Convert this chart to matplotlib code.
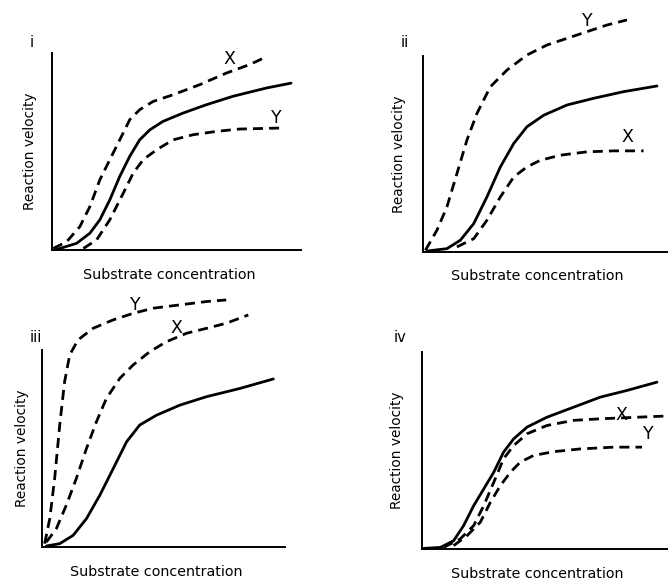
import matplotlib.pyplot as plt

# curve points, x and y in % of the axis length
# panel i
i_solid_x = [1.9, 9.9, 15.2, 19.2, 23.2, 27.2, 31.2, 35.2, 39.3, 44.6, 52.6, 61.9, 72.6, 86.0, 96.0]
i_solid_y = [0.3, 3.4, 8.5, 15.3, 25.4, 37.3, 47.5, 55.9, 61.0, 65.3, 69.5, 73.7, 78.0, 82.2, 84.7]
i_x_x = [0.5, 5.9, 11.2, 15.2, 19.2, 23.2, 27.2, 31.2, 35.2, 40.6, 48.6, 59.3, 70.0, 79.3, 86.0]
i_x_y = [0.8, 4.2, 11.9, 22.0, 35.6, 45.8, 55.9, 66.1, 71.2, 75.4, 78.8, 83.9, 89.8, 94.1, 98.0]
i_y_x = [12.6, 17.9, 23.2, 28.6, 32.6, 36.6, 41.9, 48.6, 56.6, 66.0, 75.3, 91.3]
i_y_y = [0.8, 5.1, 15.3, 28.8, 39.0, 45.8, 50.8, 55.9, 58.5, 60.2, 61.4, 61.9]

# panel ii
ii_solid_x = [1.6, 9.8, 15.3, 20.8, 26.2, 31.7, 37.2, 42.6, 49.5, 59.0, 69.9, 82.2, 95.9]
ii_solid_y = [0.5, 1.7, 6.0, 14.5, 28.1, 43.4, 55.4, 63.9, 69.8, 75.0, 78.4, 81.8, 84.7]
ii_y_x = [1.0, 5.7, 9.8, 13.9, 18.0, 22.1, 27.6, 34.4, 42.6, 50.8, 59.0, 67.2, 75.4, 83.6]
ii_y_y = [0.9, 11.1, 23.0, 40.0, 57.1, 70.7, 84.3, 92.8, 100.5, 105.6, 109.0, 112.4, 115.8, 118.4]
ii_x_x = [13.9, 20.8, 26.2, 31.7, 37.2, 42.6, 48.1, 56.3, 67.2, 78.1, 90.4]
ii_x_y = [2.6, 6.8, 16.2, 28.1, 38.3, 43.4, 46.8, 49.4, 51.1, 51.6, 51.6]

# panel iii
iii_solid_x = [1.8, 7.3, 12.8, 18.3, 23.8, 29.3, 34.8, 40.2, 47.1, 56.7, 67.7, 81.5, 95.2]
iii_solid_y = [0.5, 1.7, 5.9, 14.4, 26.3, 39.8, 53.4, 61.9, 66.9, 72.0, 76.3, 80.5, 85.3]
iii_y_x = [1.1, 3.2, 5.2, 7.3, 9.3, 11.4, 14.8, 21.0, 29.3, 37.5, 45.7, 56.7, 67.7, 75.8]
iii_y_y = [1.7, 14.4, 34.7, 62.0, 83.9, 97.5, 105.1, 111.0, 115.3, 118.6, 121.2, 122.9, 124.6, 125.4]
iii_x_x = [1.8, 5.9, 10.0, 14.1, 18.3, 22.4, 26.5, 32.0, 37.5, 44.4, 51.2, 59.5, 67.7, 75.9, 84.9]
iii_x_y = [2.5, 9.3, 21.2, 34.7, 50.0, 63.6, 75.4, 85.6, 92.4, 99.2, 104.2, 108.5, 111.0, 113.6, 117.8]

# panel iv
iv_solid_x = [0.7, 7.5, 12.9, 17.0, 21.1, 25.2, 29.3, 33.3, 37.4, 42.9, 51.0, 61.9, 72.8, 83.7, 95.9]
iv_solid_y = [0.3, 0.8, 4.2, 11.9, 22.0, 30.5, 39.0, 49.2, 55.9, 61.9, 66.9, 72.0, 77.1, 80.5, 84.7]
iv_x_x = [8.8, 15.6, 21.1, 25.2, 29.3, 33.3, 37.4, 42.9, 51.0, 61.9, 72.8, 99.5]
iv_x_y = [0.8, 5.1, 11.9, 22.0, 33.9, 45.8, 52.5, 58.5, 62.7, 65.3, 66.1, 67.5]
iv_y_x = [12.9, 18.4, 23.8, 27.9, 32.0, 36.1, 40.1, 45.6, 53.7, 64.6, 78.2, 89.8]
iv_y_y = [1.7, 6.8, 13.6, 23.7, 32.2, 39.0, 44.1, 47.5, 49.4, 50.8, 51.7, 51.7]

panels = [
    # name, axes rect (px), solid, dashed X, dashed Y, X label pos, Y label pos, numeral pos, ylabel x
    ('i', [52, 250, 249, 197], (i_solid_x, i_solid_y), (i_x_x, i_x_y), (i_y_x, i_y_y),
     (71.3, 97.0), (90.0, 67.0), (-0.088, 1.015), -0.088),
    ('ii', [423, 252, 244, 196], (ii_solid_x, ii_solid_y), (ii_x_x, ii_x_y), (ii_y_x, ii_y_y),
     (83.6, 58.8), (67.2, 118.0), (-0.09, 1.03), -0.098),
    ('iii', [42, 547, 243, 197], (iii_solid_x, iii_solid_y), (iii_x_x, iii_x_y), (iii_y_x, iii_y_y),
     (55.4, 111.0), (38.2, 123.0), (-0.05, 1.025), -0.082),
    ('iv', [422, 549, 245, 197], (iv_solid_x, iv_solid_y), (iv_x_x, iv_x_y), (iv_y_x, iv_y_y),
     (81.6, 67.8), (92.5, 58.5), (-0.114, 1.035), -0.102),
]

W, H = 669, 584
fig = plt.figure(figsize=(W / 100, H / 100), dpi=100)
dash = (0, (3.6, 2.2))

for name, (left, base, w, h), solid, xs, ys, xpos, ypos, npos, ylx in panels:
    ax = fig.add_axes([left / W, (H - base) / H, w / W, h / H])
    ax.set_xlim(0, 100)
    ax.set_ylim(0, 100)
    for s in ['top', 'right']:
        ax.spines[s].set_visible(False)
    for s in ['left', 'bottom']:
        ax.spines[s].set_linewidth(1.4)
    ax.set_xticks([])
    ax.set_yticks([])

    ax.plot(solid[0], solid[1], color='black', lw=2.0, clip_on=False, solid_capstyle='round')
    ax.plot(xs[0], xs[1], color='black', lw=2.0, ls=dash, clip_on=False)
    ax.plot(ys[0], ys[1], color='black', lw=2.0, ls=dash, clip_on=False)

    ax.text(xpos[0], xpos[1], 'X', fontsize=12.5, ha='center', va='center')
    ax.text(ypos[0], ypos[1], 'Y', fontsize=12.5, ha='center', va='center')
    ax.text(npos[0], npos[1], name, fontsize=10.5, transform=ax.transAxes,
            ha='left', va='bottom')

    # axis titles
    ax.text(ylx, 0.5, 'Reaction velocity', rotation=90, fontsize=9.8,
            transform=ax.transAxes, ha='center', va='center')
    ax.text(0.47, -0.125, 'Substrate concentration', fontsize=10.3,
            transform=ax.transAxes, ha='center', va='center')

plt.savefig('out.png', dpi=100)
